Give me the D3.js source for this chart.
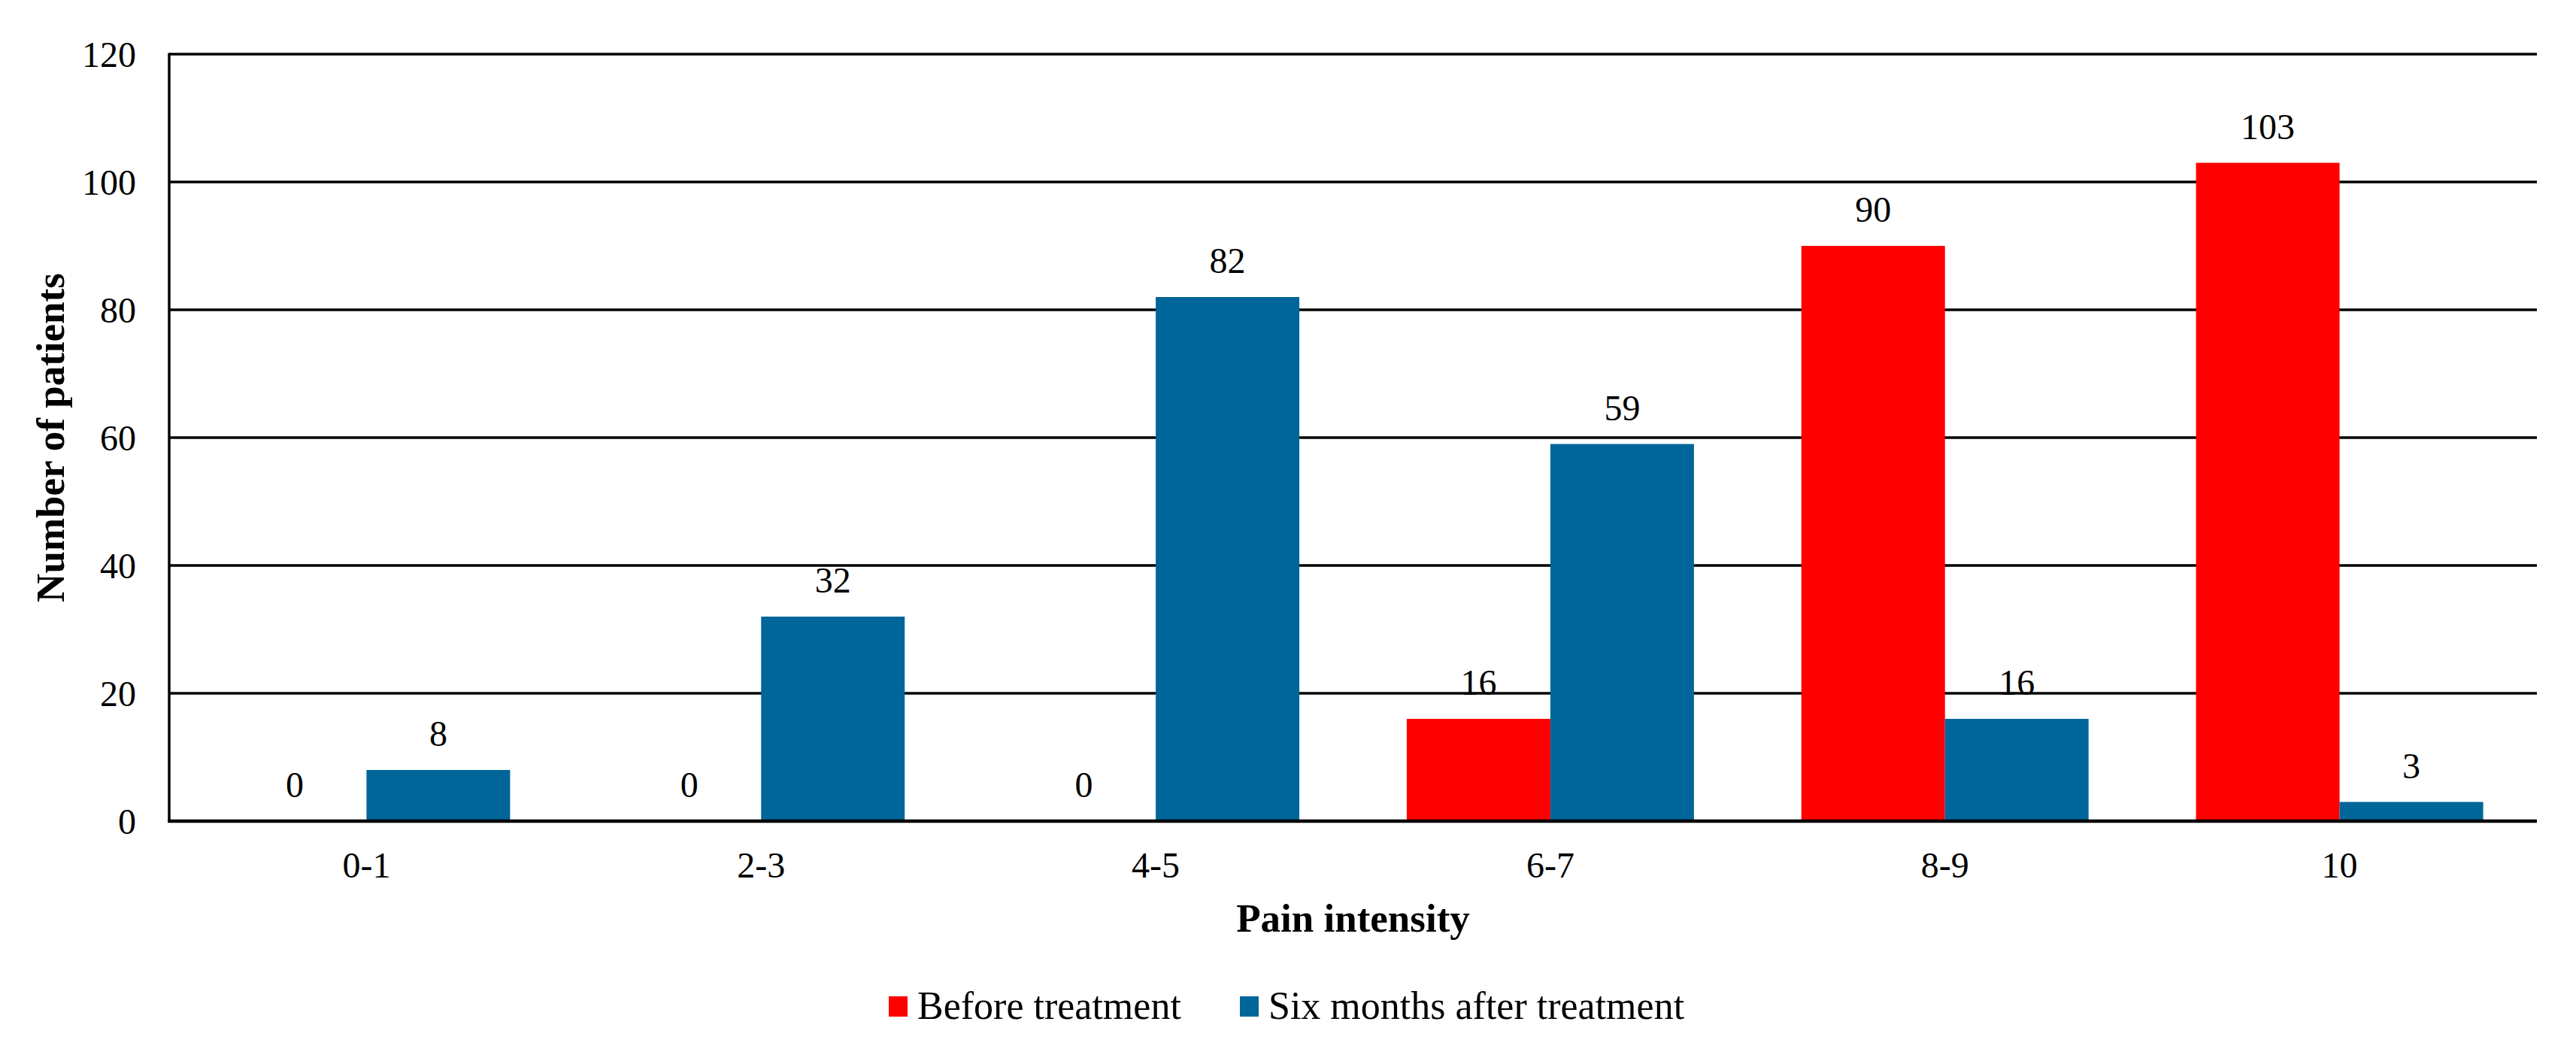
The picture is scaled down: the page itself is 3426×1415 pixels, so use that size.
<!DOCTYPE html>
<html><head><meta charset="utf-8">
<script src="https://cdn.jsdelivr.net/npm/d3@7"></script>
<style>body{margin:0;background:#fff}svg{display:block}text{font-family:"Liberation Serif","Times New Roman",serif;fill:#000}</style>
</head><body>
<script>
const categories = ["0-1","2-3","4-5","6-7","8-9","10"];
const seriesNames = ["Before treatment","Six months after treatment"];
const beforeValues = [0,0,0,16,90,103];
const afterValues = [8,32,82,59,16,3];
const yTicks = [0,20,40,60,80,100,120];
const colors = ["#FF0000","#006699"];

const W=3426,H=1415;
const m={left:225,right:3374,top:72,bottom:1092};
const svg=d3.select("body").append("svg").attr("width",W).attr("height",H);
const x=d3.scaleBand().domain(categories).range([m.left,m.right]).paddingInner(0).paddingOuter(0);
const inner=d3.scaleBand().domain([0,1]).range([0,x.bandwidth()]).paddingInner(0).paddingOuter(0.374);
const y=d3.scaleLinear().domain([0,120]).range([m.bottom,m.top]);

// gridlines
svg.append("g").selectAll("line").data(yTicks.filter(d=>d>0)).join("line")
 .attr("x1",m.left).attr("x2",m.right).attr("y1",d=>y(d)).attr("y2",d=>y(d))
 .attr("stroke","#000").attr("stroke-width",3.5);

const data=categories.map((c,i)=>({c,vals:[beforeValues[i],afterValues[i]]}));
const g=svg.append("g");
data.forEach(d=>{
  d.vals.forEach((v,k)=>{
    const bx=x(d.c)+inner(k), bw=inner.bandwidth();
    g.append("rect").attr("x",bx).attr("width",bw).attr("y",y(v)).attr("height",y(0)-y(v)).attr("fill",colors[k]);
    g.append("text").attr("x",bx+bw/2).attr("y",y(v)-32).attr("text-anchor","middle").attr("font-size",48).text(v);
  });
});

// axes lines
svg.append("line").attr("x1",m.left).attr("x2",m.left).attr("y1",m.top-1.5).attr("y2",m.bottom+2).attr("stroke","#000").attr("stroke-width",3.5);
svg.append("line").attr("x1",m.left-1.5).attr("x2",m.right).attr("y1",m.bottom).attr("y2",m.bottom).attr("stroke","#000").attr("stroke-width",4.5);

// y tick labels
svg.append("g").selectAll("text").data(yTicks).join("text")
 .attr("x",181).attr("y",d=>y(d)).attr("dy","0.35em").attr("text-anchor","end").attr("font-size",48).text(d=>d);
// x tick labels
svg.append("g").selectAll("text").data(categories).join("text")
 .attr("x",d=>x(d)+x.bandwidth()/2).attr("y",1167).attr("text-anchor","middle").attr("font-size",48).text(d=>d);

// axis titles
svg.append("text").attr("x",(m.left+m.right)/2).attr("y",1239).attr("text-anchor","middle").attr("font-size",53).attr("font-weight","bold").text("Pain intensity");
svg.append("text").attr("transform",`translate(85,${(m.top+m.bottom)/2}) rotate(-90)`).attr("text-anchor","middle").attr("font-size",53).attr("font-weight","bold").text("Number of patients");

// legend
const legX=[1182,1649];
seriesNames.forEach((n,k)=>{
  svg.append("rect").attr("x",legX[k]).attr("y",1325).attr("width",25).attr("height",27).attr("fill",colors[k]);
  svg.append("text").attr("x",legX[k]+38).attr("y",1355).attr("font-size",52).text(n);
});
</script>
</body></html>
